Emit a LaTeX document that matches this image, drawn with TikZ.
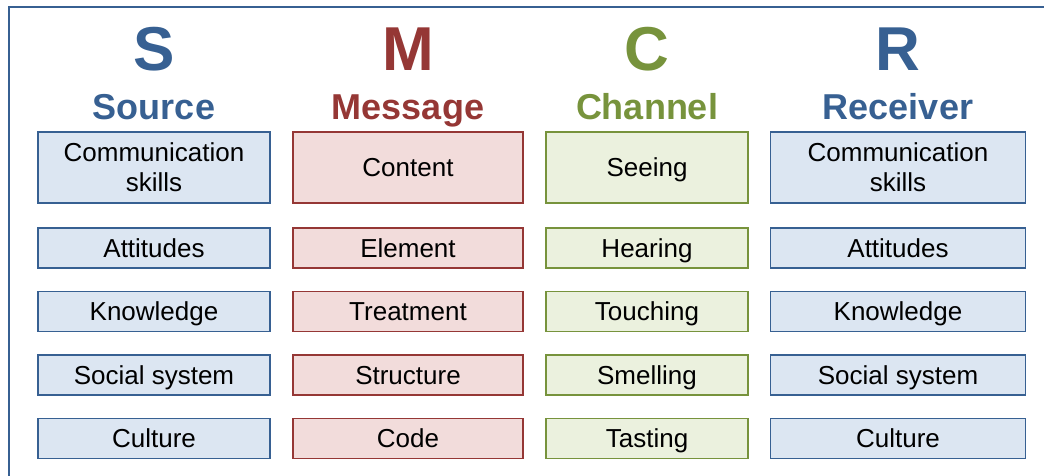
\documentclass[tikz,border=0pt]{standalone}
\usepackage{fontspec}
\setmainfont{Liberation Sans}
\definecolor{srcblue}{HTML}{376092}
\definecolor{srcfill}{HTML}{DCE6F2}
\definecolor{msgred}{HTML}{953735}
\definecolor{msgfill}{HTML}{F2DCDB}
\definecolor{chngreen}{HTML}{77933C}
\definecolor{chnfill}{HTML}{EBF1DE}
\tikzset{
  cellbox/.style={draw, line width=1.6pt, inner sep=0pt, align=center,
    font=\fontsize{26}{30}\selectfont, minimum height=40pt},
  oneline/.style={text height=18.7pt, text depth=0pt},
  bigletter/.style={font=\fontsize{62}{62}\selectfont\bfseries},
  headword/.style={font=\fontsize{36}{36}\selectfont\bfseries, anchor=base},
}
\begin{document}
\begin{tikzpicture}[x=1pt, y=-1pt]
\useasboundingbox (0,0) rectangle (1044,476);
% frame
\draw [srcblue, line width=2pt] (9,480) -- (9,7) -- (1050,7);
% headings
\node [bigletter, srcblue] (S) at (154,49) {S};
\node [bigletter, msgred] (M) at (408,49) {M};
\node [bigletter, chngreen] (C) at (647,49) {C};
\node [bigletter, srcblue] (R) at (898,49) {R};
\node [headword, srcblue] (source) at (154,120) {Source};
\node [headword, msgred] (message) at (408,120) {Message};
\node [headword, chngreen] (channel) at (647,120) {Channel};
\node [headword, srcblue] (receiver) at (898,120) {Receiver};
% first row
\node [cellbox, srcblue, fill=srcfill, text=black, minimum width=232pt, minimum height=71pt] (scom) at (154,167.5) {Communication\\skills};
\node [cellbox, oneline, msgred, fill=msgfill, text=black, minimum width=230pt, minimum height=71pt] (mcon) at (408,167.5) {Content};
\node [cellbox, oneline, chngreen, fill=chnfill, text=black, minimum width=202pt, minimum height=71pt] (csee) at (647,167.5) {Seeing};
\node [cellbox, srcblue, fill=srcfill, text=black, minimum width=255pt, minimum height=71pt] (rcom) at (898,167.5) {Communication\\skills};
% other rows
\foreach \nm/\txt [count=\i] in {att/Attitudes, know/Knowledge, soc/Social system, cul/Culture} {
  \node [cellbox, oneline, srcblue, fill=srcfill, text=black, minimum width=232pt] (s\nm) at (154,184.5+63.5*\i) {\txt};
  \node [cellbox, oneline, srcblue, fill=srcfill, text=black, minimum width=255pt] (r\nm) at (898,184.5+63.5*\i) {\txt};
}
\foreach \nm/\txt [count=\i] in {ele/Element, tre/Treatment, str/Structure, cod/Code}
  \node [cellbox, oneline, msgred, fill=msgfill, text=black, minimum width=230pt] (m\nm) at (408,184.5+63.5*\i) {\txt};
\foreach \nm/\txt [count=\i] in {hea/Hearing, tou/Touching, sme/Smelling, tas/Tasting}
  \node [cellbox, oneline, chngreen, fill=chnfill, text=black, minimum width=202pt] (c\nm) at (647,184.5+63.5*\i) {\txt};
\end{tikzpicture}
\end{document}
